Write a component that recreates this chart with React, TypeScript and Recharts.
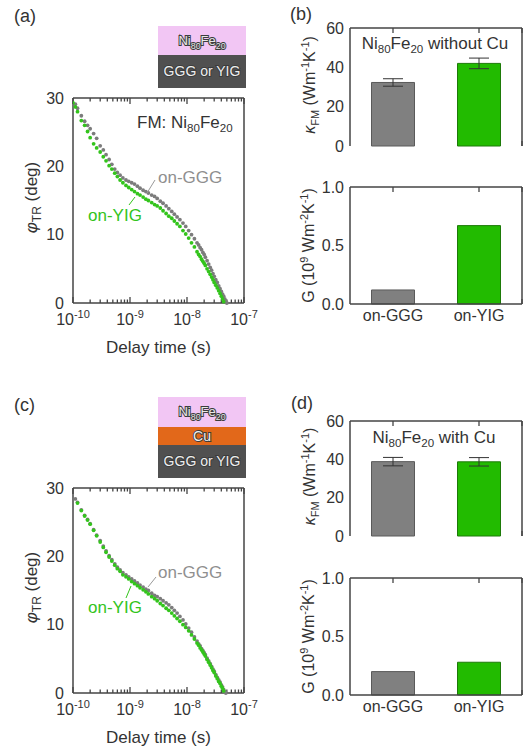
import React from 'react';
import { ScatterChart, Scatter, XAxis, YAxis, BarChart, Bar, ErrorBar, Cell, Label } from 'recharts';

// delay times (ns) shared by the four curves; null = no point at that delay
const delayNs = [
  0.10, 0.11, 0.12, 0.14, 0.16, 0.18, 0.20, 0.23, 0.26, 0.30, 0.34, 0.38, 0.43, 0.48, 0.54, 0.60, 0.67,
  0.75, 0.85, 0.95, 1.07, 1.2, 1.35, 1.5, 1.7, 1.9, 2.1, 2.4, 2.7, 3.0, 3.4, 3.8, 4.3, 4.8, 5.4, 6.0,
  6.7, 7.5, 8.5, 9.5, 10.7, 12, 13.5, 15, 16, 17, 18, 19, 20, 21, 22.5, 24, 25.5, 27, 28.5, 30, 32, 34,
  36, 38, 40, 42, 44, 46, 48, 50,
];

// (a) Ni80Fe20 without Cu
const phiGGGa = [
  null, 29.1, 28.5, 27.4, 26.6, 26.0, 25.5, 24.8, 24.1, 23.0, 22.4, 21.7, 21.0, 20.3, 19.6, 19.1, 18.7,
  18.3, 18.0, 17.8, 17.6, 17.4, 17.1, 16.8, 16.5, 16.3, 16.1, 15.8, 15.6, 15.3, 14.9, 14.6, 14.2, 13.8,
  13.4, 13.0, 12.6, 12.2, 11.7, 11.2, 10.6, 10.0, 9.4, 8.8, 8.5, 8.1, 7.8, 7.4, 7.1, 6.7, 6.2, 5.7, 5.2,
  4.8, 4.3, 3.9, 3.4, 3.0, 2.5, 2.1, 1.7, 1.3, 1.0, 0.6, 0.3, 0.0,
];
const phiYIGa = [
  29.3, 28.7, 28.0, 26.7, 26.0, 25.1, 24.2, 23.3, 22.7, 22.1, 21.4, 20.8, 20.1, 19.6, 19.0, 18.5, 18.0,
  17.6, 17.2, 16.9, 16.6, 16.3, 16.0, 15.8, 15.5, 15.2, 15.0, 14.7, 14.4, 14.2, 13.9, 13.5, 13.1, 12.7,
  12.4, 12.0, 11.6, 11.2, 10.6, 10.1, 9.5, 8.8, 8.2, 7.5, 7.1, 6.8, 6.4, 6.1, 5.8, 5.5, 5.0, 4.6, 4.2,
  3.8, 3.4, 3.0, 2.6, 2.2, 1.8, 1.4, 1.0, 0.6, 0.2, null, null, null,
];

// (c) Ni80Fe20 with Cu
const phiGGGc = [
  null, 28.4, 27.9, 26.8, 26.0, 25.4, 24.8, 23.9, 23.1, 22.3, 21.5, 20.8, 20.1, 19.5, 18.9, 18.4, 18.0,
  17.6, 17.3, 17.0, 16.7, 16.4, 16.1, 15.8, 15.5, 15.2, 15.0, 14.6, 14.3, 14.1, 13.8, 13.5, 13.2, 12.9,
  12.5, 12.1, 11.7, 11.2, 10.7, 10.1, 9.5, 8.9, 8.2, 7.6, 7.2, 6.9, 6.5, 6.2, 5.9, 5.6, 5.1, 4.7, 4.3,
  3.9, 3.5, 3.2, 2.7, 2.3, 1.9, 1.6, 1.2, 0.9, 0.5, 0.2, 0.0, null,
];
const phiYIGc = [
  null, null, 27.8, 26.7, 25.9, 25.3, 24.7, 23.8, 23.0, 22.1, 21.3, 20.6, 19.9, 19.3, 18.7, 18.2, 17.8,
  17.3, 17.0, 16.7, 16.3, 16.0, 15.7, 15.4, 15.1, 14.8, 14.5, 14.1, 13.8, 13.5, 13.1, 12.8, 12.4, 12.1,
  11.7, 11.3, 10.9, 10.5, 10.0, 9.6, 9.1, 8.5, 7.9, 7.3, 7.0, 6.6, 6.3, 6.0, 5.7, 5.4, 4.9, 4.5, 4.1,
  3.7, 3.3, 3.0, 2.5, 2.1, 1.7, 1.4, 1.0, 0.7, 0.3, null, null, null,
];

const categories = ['on-GGG', 'on-YIG'];
const kappaB = [32.3, 42.0];
const kappaErrB = [1.9, 2.7];
const gB = [0.12, 0.67];
const kappaD = [38.8, 38.7];
const kappaErrD = [2.2, 2.2];
const gD = [0.2, 0.28];

const majorDelayTicks = [1e-10, 1e-9, 1e-8, 1e-7];
const minorDelayTicks = [
  2e-10, 3e-10, 4e-10, 5e-10, 6e-10, 7e-10, 8e-10, 9e-10,
  2e-9, 3e-9, 4e-9, 5e-9, 6e-9, 7e-9, 8e-9, 9e-9,
  2e-8, 3e-8, 4e-8, 5e-8, 6e-8, 7e-8, 8e-8, 9e-8,
];
const phiTicks = [0, 5, 10, 15, 20, 25, 30];
const kappaTicks = [0, 10, 20, 30, 40, 50, 60];
const gTicks = [0, 0.25, 0.5, 0.75, 1];

const FONT = '"Liberation Sans", Arial, sans-serif';
const AXIS = '#444444';
const TEXT = '#333333';
const GRAY = '#7c7c7c';
const GREEN = '#33c41c';
const BAR_GREEN = '#22bb00';
const THIN = 0.01; // helper axes need a non-zero size or their ticks are skipped

type Pt = { t: number; phi: number };
const toPoints = (phi: (number | null)[]): Pt[] =>
  delayNs.flatMap((t, i) => (phi[i] == null ? [] : [{ t: t * 1e-9, phi: phi[i] as number }]));

const axisLine = { stroke: AXIS, strokeWidth: 1.5 };
const tickLine = { stroke: AXIS, strokeWidth: 1.3 };
const NoTick = () => <g />;
// mirrored, label-free axes only draw inward tick marks
const inward = { mirror: true, tick: NoTick, axisLine: false, tickLine, interval: 0 as const };

function DelayTick(props: any) {
  const { x, y, payload } = props;
  const exp = Math.round(Math.log10(payload.value));
  return (
    <text x={x} y={y + 18} textAnchor="middle" fontSize={16} fill={TEXT}>
      10<tspan dy={-7} fontSize={11}>{exp}</tspan>
    </text>
  );
}

const phiLabel = (props: any) => {
  const vb = props.viewBox;
  const x = vb.x + 37;
  const y = vb.y + vb.height / 2 - 3;
  return (
    <text x={x} y={y} transform={`rotate(-90 ${x} ${y})`} textAnchor="middle" fontSize={17} fill={TEXT}>
      <tspan fontStyle="italic">φ</tspan>
      <tspan dy={4} fontSize={12}>TR</tspan>
      <tspan dy={-4}> (deg)</tspan>
    </text>
  );
};

const kappaLabel = (props: any) => {
  const vb = props.viewBox;
  const x = vb.x + 55;
  const y = vb.y + vb.height / 2 - 2;
  return (
    <text x={x} y={y} transform={`rotate(-90 ${x} ${y})`} textAnchor="middle" fontSize={16} fill={TEXT}>
      <tspan fontStyle="italic">κ</tspan>
      <tspan dy={4} fontSize={11}>FM</tspan>
      <tspan dy={-4}> (Wm</tspan>
      <tspan dy={-6} fontSize={11}>-1</tspan>
      <tspan dy={6}>K</tspan>
      <tspan dy={-6} fontSize={11}>-1</tspan>
      <tspan dy={6}>)</tspan>
    </text>
  );
};

const gLabel = (props: any) => {
  const vb = props.viewBox;
  const x = vb.x + 54;
  const y = vb.y + vb.height / 2;
  return (
    <text x={x} y={y} transform={`rotate(-90 ${x} ${y})`} textAnchor="middle" fontSize={16} fill={TEXT}>
      G (10
      <tspan dy={-6} fontSize={11}>9</tspan>
      <tspan dy={6}> Wm</tspan>
      <tspan dy={-6} fontSize={11}>-2</tspan>
      <tspan dy={6}>K</tspan>
      <tspan dy={-6} fontSize={11}>-1</tspan>
      <tspan dy={6}>)</tspan>
    </text>
  );
};

const dot = (color: string) => (p: any) => <circle cx={p.cx} cy={p.cy} r={1.9} fill={color} />;

function PhasePanel({ top, gray, green }: { top: number; gray: Pt[]; green: Pt[] }) {
  const logAxis = { type: 'number' as const, scale: 'log' as const, domain: [1e-10, 1e-7], allowDataOverflow: true, dataKey: 't' };
  return (
    <div style={{ position: 'absolute', left: 0, top, width: 260, height: 290 }}>
      <ScatterChart width={260} height={290} margin={{ top: 18, right: 16, bottom: 0, left: 0 }}>
        <XAxis xAxisId="minor" {...logAxis} {...inward} ticks={minorDelayTicks} tickSize={3.5} height={THIN} />
        <XAxis xAxisId="major" {...logAxis} {...inward} ticks={majorDelayTicks} tickSize={6} height={THIN} />
        <XAxis xAxisId="topMinor" orientation="top" {...logAxis} {...inward} ticks={minorDelayTicks} tickSize={3.5} height={THIN} />
        <XAxis xAxisId="topMajor" orientation="top" {...logAxis} {...inward} ticks={majorDelayTicks} tickSize={6} height={THIN} axisLine={axisLine} />
        <YAxis yAxisId="phiTicks" dataKey="phi" type="number" domain={[0, 30]} ticks={phiTicks} {...inward} tickSize={5} width={THIN} />
        <YAxis yAxisId="phiR" orientation="right" dataKey="phi" type="number" domain={[0, 30]} ticks={phiTicks} {...inward} tickSize={5} width={THIN} axisLine={axisLine} />
        <XAxis xAxisId="t" {...logAxis} ticks={majorDelayTicks} interval={0} tick={<DelayTick />} tickSize={0} tickMargin={4} axisLine={axisLine} tickLine={false} height={67}>
          <Label value="Delay time (s)" position="insideBottom" offset={17} fontSize={17} fill={TEXT} />
        </XAxis>
        <YAxis yAxisId="phi" dataKey="phi" type="number" domain={[0, 30]} ticks={phiTicks} interval={0}
          tickFormatter={(v: number) => (v % 10 === 0 ? String(v) : '')}
          tick={{ fill: TEXT, fontSize: 16 }} tickSize={0} tickMargin={9} width={73} axisLine={axisLine} tickLine={false}>
          <Label content={phiLabel} />
        </YAxis>
        <Scatter xAxisId="t" yAxisId="phi" data={gray} fill={GRAY} shape={dot(GRAY)} isAnimationActive={false} />
        <Scatter xAxisId="t" yAxisId="phi" data={green} fill={GREEN} shape={dot(GREEN)} isAnimationActive={false} />
      </ScatterChart>
    </div>
  );
}

type BarPanelProps = {
  top: number;
  height: number;
  marginTop: number;
  marginBottom: number;
  xHeight: number;
  values: number[];
  errors?: number[];
  domain: [number, number];
  ticks: number[];
  fmt: (v: number) => string;
  label: (p: any) => React.ReactElement;
  showNames: boolean;
};

function BarPanel(p: BarPanelProps) {
  const rows = categories.map((name, i) => ({ name, value: p.values[i], err: p.errors ? p.errors[i] : 0 }));
  return (
    <div style={{ position: 'absolute', left: 260, top: p.top, width: 267, height: p.height }}>
      <BarChart width={267} height={p.height} data={rows} barCategoryGap="25%"
        margin={{ top: p.marginTop, right: 5, bottom: p.marginBottom, left: 0 }}>
        <XAxis xAxisId="mid" type="number" domain={[0, 2]} ticks={[1]} {...inward} tickSize={5} height={THIN} />
        <XAxis xAxisId="midTop" orientation="top" type="number" domain={[0, 2]} ticks={[1]} {...inward} tickSize={5} height={THIN} />
        <XAxis xAxisId="catTop" orientation="top" dataKey="name" type="category" {...inward} tickSize={5} height={THIN} axisLine={axisLine} />
        <YAxis yAxisId="vTicks" type="number" domain={p.domain} ticks={p.ticks} {...inward} tickSize={5} width={THIN} />
        <YAxis yAxisId="vr" orientation="right" type="number" domain={p.domain} ticks={p.ticks} {...inward} tickSize={5} width={THIN} axisLine={axisLine} />
        <XAxis xAxisId="cat" dataKey="name" type="category" interval={0} axisLine={axisLine} tickLine={false}
          tick={p.showNames ? { fill: TEXT, fontSize: 16 } : NoTick} tickSize={0} tickMargin={6} height={p.xHeight} />
        <YAxis yAxisId="v" type="number" domain={p.domain} ticks={p.ticks} interval={0} tickFormatter={p.fmt}
          tick={{ fill: TEXT, fontSize: 16 }} tickSize={0} tickMargin={6} width={90} axisLine={axisLine} tickLine={false}>
          <Label content={p.label} />
        </YAxis>
        <Bar xAxisId="cat" yAxisId="v" dataKey="value" isAnimationActive={false} strokeWidth={1}>
          <Cell fill="#808080" stroke="#5a5a5a" />
          <Cell fill={BAR_GREEN} stroke="#1d7a08" />
          {p.errors && <ErrorBar dataKey="err" width={10} stroke="#333" strokeWidth={1} isAnimationActive={false} />}
        </Bar>
      </BarChart>
    </div>
  );
}

const fmtKappa = (v: number) => (v % 20 === 0 ? String(v) : '');
const fmtG = (v: number) => (v === 0 || v === 0.5 || v === 1 ? v.toFixed(1) : '');

function Sub({ children }: { children: React.ReactNode }) {
  return <tspan dy={4} fontSize="0.68em">{children}</tspan>;
}

function NiFe({ x, y, size, anchor, fill, suffix, outline }: { x: number; y: number; size: number; anchor: string; fill: string; suffix?: string; outline?: boolean }) {
  const extra = outline ? { stroke: '#3c3c3c', strokeWidth: 2, paintOrder: 'stroke' as const } : {};
  return (
    <text x={x} y={y} fontSize={size} textAnchor={anchor as any} fill={fill} {...extra}>
      Ni<Sub>80</Sub><tspan dy={-4}>Fe</tspan><Sub>20</Sub><tspan dy={-4}>{suffix ?? ''}</tspan>
    </text>
  );
}

function Overlay() {
  const inset = { stroke: '#3c3c3c', strokeWidth: 2, paintOrder: 'stroke' as const };
  return (
    <svg width={527} height={753} style={{ position: 'absolute', left: 0, top: 0, pointerEvents: 'none' }} fontFamily={FONT}>
      {/* panel letters */}
      <text x={14} y={22} fontSize={18} fill={TEXT}>(a)</text>
      <text x={290} y={20} fontSize={18} fill={TEXT}>(b)</text>
      <text x={14} y={411} fontSize={18} fill={TEXT}>(c)</text>
      <text x={291} y={409} fontSize={18} fill={TEXT}>(d)</text>

      {/* stack sketch (a) */}
      <rect x={158} y={26} width={88} height={29} fill="#f2c6f4" />
      <rect x={158} y={55} width={88} height={33} fill="#505050" />
      <NiFe x={202} y={45} size={13} anchor="middle" fill="#e8e8e8" outline />
      <text x={202} y={76} fontSize={14} textAnchor="middle" fill="#eeeeee" {...inset}>GGG or YIG</text>

      {/* stack sketch (c) */}
      <rect x={158} y={397} width={88} height={30} fill="#f2c6f4" />
      <rect x={158} y={427} width={88} height={18} fill="#e2681a" />
      <rect x={158} y={445} width={88} height={33} fill="#505050" />
      <NiFe x={202} y={416} size={13} anchor="middle" fill="#e8e8e8" outline />
      <text x={202} y={441} fontSize={14} textAnchor="middle" fill="#eeeeee" {...inset}>Cu</text>
      <text x={202} y={466} fontSize={14} textAnchor="middle" fill="#eeeeee" {...inset}>GGG or YIG</text>

      {/* annotations (a) */}
      <text x={137} y={128} fontSize={17} fill={TEXT}>FM: Ni<Sub>80</Sub><tspan dy={-4}>Fe</tspan><Sub>20</Sub></text>
      <text x={158} y={183} fontSize={17} fill="#8f8f8f">on-GGG</text>
      <text x={88} y={221} fontSize={17} fill={GREEN}>on-YIG</text>
      <line x1={155} y1={180} x2={147} y2={193} stroke="#9a9a9a" strokeWidth={1} />
      <line x1={135} y1={197} x2={129} y2={205} stroke={GREEN} strokeWidth={1} />

      {/* annotations (c) */}
      <text x={158} y={578} fontSize={17} fill="#8f8f8f">on-GGG</text>
      <text x={88} y={613} fontSize={17} fill={GREEN}>on-YIG</text>
      <line x1={156} y1={577} x2={148} y2={587} stroke="#9a9a9a" strokeWidth={1} />
      <line x1={131} y1={586} x2={126} y2={598} stroke={GREEN} strokeWidth={1} />

      {/* bar panel titles */}
      <NiFe x={435} y={49} size={17} anchor="middle" fill={TEXT} suffix=" without Cu" />
      <NiFe x={434} y={443} size={17} anchor="middle" fill={TEXT} suffix=" with Cu" />
    </svg>
  );
}

export default function App() {
  return (
    <div style={{ position: 'absolute', left: 0, top: 0, width: 527, height: 753, background: '#fff', fontFamily: FONT }}>
      <PhasePanel top={80} gray={toPoints(phiGGGa)} green={toPoints(phiYIGa)} />
      <PhasePanel top={470} gray={toPoints(phiGGGc)} green={toPoints(phiYIGc)} />
      <BarPanel top={10} height={150} marginTop={18} marginBottom={14} xHeight={0} values={kappaB} errors={kappaErrB}
        domain={[0, 60]} ticks={kappaTicks} fmt={fmtKappa} label={kappaLabel} showNames={false} />
      <BarPanel top={170} height={170} marginTop={17} marginBottom={0} xHeight={36} values={gB}
        domain={[0, 1]} ticks={gTicks} fmt={fmtG} label={gLabel} showNames />
      <BarPanel top={400} height={150} marginTop={21} marginBottom={14} xHeight={0} values={kappaD} errors={kappaErrD}
        domain={[0, 60]} ticks={kappaTicks} fmt={fmtKappa} label={kappaLabel} showNames={false} />
      <BarPanel top={560} height={170} marginTop={18} marginBottom={0} xHeight={35} values={gD}
        domain={[0, 1]} ticks={gTicks} fmt={fmtG} label={gLabel} showNames />
      <Overlay />
    </div>
  );
}
